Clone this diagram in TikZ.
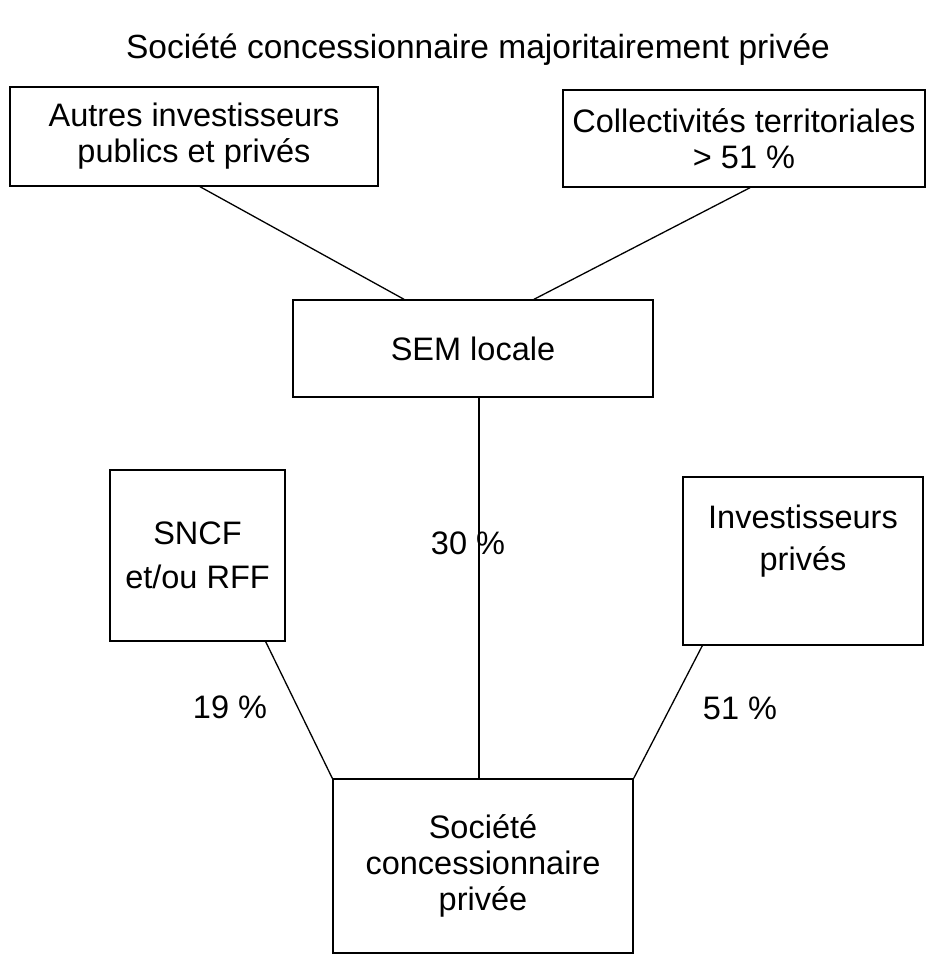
\documentclass[tikz,border=0pt]{standalone}
\usepackage{fontspec}
\setmainfont{Liberation Sans}
\begin{document}
\begin{tikzpicture}[x=1pt,y=-1pt,
  box/.style={draw=black,line width=1.4pt,inner sep=0pt,align=center,font=\fontsize{32.5}{36}\selectfont},
  link/.style={draw=black,line width=1.3pt},
  lbl/.style={inner sep=0pt,font=\fontsize{32.5}{36}\selectfont}]
\useasboundingbox (0,0) rectangle (933,956);
\node[inner sep=0pt,font=\fontsize{33.5}{38}\selectfont] (title) at (478,50) {Société concessionnaire majoritairement privée};
\node[box,minimum width=368pt,minimum height=99pt] (A) at (194,136.5) {Autres investisseurs\\publics et privés};
\node[box,minimum width=362pt,minimum height=97pt] (C) at (744,138.5) {Collectivités territoriales\\> 51 \%};
\node[box,minimum width=360pt,minimum height=97pt] (S) at (473,348.5) {SEM locale};
\node[box,minimum width=175pt,minimum height=171pt,font=\fontsize{32.5}{44}\selectfont] (N) at (197.5,555.5) {SNCF\\et/ou RFF};
\node[box,minimum width=240pt,minimum height=168pt,font=\fontsize{32.5}{42}\selectfont] (I) at (803,561) {Investisseurs\\privés\\[4pt]\mbox{}};
\node[box,minimum width=300pt,minimum height=174pt,font=\fontsize{32.5}{36}\selectfont] (P) at (483,866) {Société\\concessionnaire\\privée};
\draw[link] ([xshift=6pt]A.south) -- ([xshift=-69pt]S.north);
\draw[link] ([xshift=6pt]C.south) -- ([xshift=61pt]S.north);
\draw[link] ([xshift=6pt]S.south) -- ([xshift=-4pt]P.north);
\draw[link] ([xshift=-20pt]N.south east) -- (P.north west);
\draw[link] ([xshift=20pt]I.south west) -- (P.north east);
\node[lbl] (l19) at (230,707) {19 \%};
\node[lbl] (l51) at (740,708) {51 \%};
\node[lbl] (l30) at (468,543) {30 \%};
\end{tikzpicture}
\end{document}
